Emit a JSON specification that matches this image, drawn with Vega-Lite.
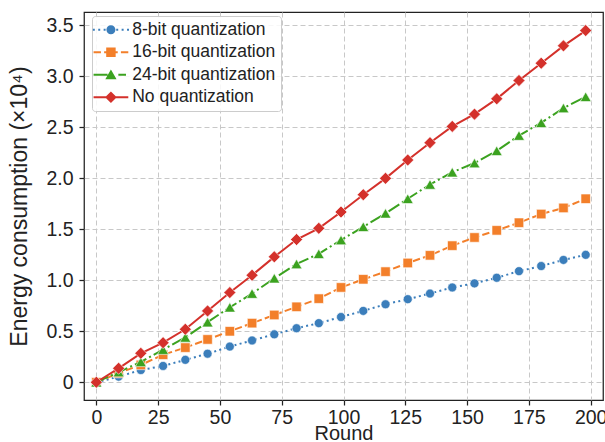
{
  "$schema": "https://vega.github.io/schema/vega-lite/v6.json",
  "width": 519,
  "height": 388,
  "autosize": "none",
  "padding": {"left": 84, "top": 12, "right": 2, "bottom": 42},
  "background": "white",
  "config": {
    "font": "Liberation Sans",
    "view": {"stroke": "#222222", "strokeWidth": 1.25},
    "axis": {
      "domain": false,
      "grid": true,
      "gridColor": "#c8c8c8",
      "gridDash": [5, 3],
      "gridWidth": 1,
      "tickColor": "#222222",
      "tickWidth": 1.25,
      "tickSize": 5,
      "labelFont": "Liberation Sans",
      "labelFontSize": 19.5,
      "labelColor": "#222222",
      "titleFont": "Liberation Sans",
      "titleFontSize": 20,
      "titleFontWeight": "normal",
      "titleColor": "#222222"
    }
  },
  "datasets": {
    "energy": [
      {"round": 0, "value": 0, "series": "8-bit quantization"},
      {"round": 9, "value": 0.055, "series": "8-bit quantization"},
      {"round": 18, "value": 0.12, "series": "8-bit quantization"},
      {"round": 27, "value": 0.16, "series": "8-bit quantization"},
      {"round": 36, "value": 0.22, "series": "8-bit quantization"},
      {"round": 45, "value": 0.28, "series": "8-bit quantization"},
      {"round": 54, "value": 0.35, "series": "8-bit quantization"},
      {"round": 63, "value": 0.41, "series": "8-bit quantization"},
      {"round": 72, "value": 0.47, "series": "8-bit quantization"},
      {"round": 81, "value": 0.53, "series": "8-bit quantization"},
      {"round": 90, "value": 0.58, "series": "8-bit quantization"},
      {"round": 99, "value": 0.64, "series": "8-bit quantization"},
      {"round": 108, "value": 0.70, "series": "8-bit quantization"},
      {"round": 117, "value": 0.765, "series": "8-bit quantization"},
      {"round": 126, "value": 0.815, "series": "8-bit quantization"},
      {"round": 135, "value": 0.87, "series": "8-bit quantization"},
      {"round": 144, "value": 0.93, "series": "8-bit quantization"},
      {"round": 153, "value": 0.97, "series": "8-bit quantization"},
      {"round": 162, "value": 1.025, "series": "8-bit quantization"},
      {"round": 171, "value": 1.09, "series": "8-bit quantization"},
      {"round": 180, "value": 1.14, "series": "8-bit quantization"},
      {"round": 189, "value": 1.20, "series": "8-bit quantization"},
      {"round": 198, "value": 1.25, "series": "8-bit quantization"},
      {"round": 0, "value": 0, "series": "16-bit quantization"},
      {"round": 9, "value": 0.09, "series": "16-bit quantization"},
      {"round": 18, "value": 0.17, "series": "16-bit quantization"},
      {"round": 27, "value": 0.27, "series": "16-bit quantization"},
      {"round": 36, "value": 0.34, "series": "16-bit quantization"},
      {"round": 45, "value": 0.42, "series": "16-bit quantization"},
      {"round": 54, "value": 0.50, "series": "16-bit quantization"},
      {"round": 63, "value": 0.58, "series": "16-bit quantization"},
      {"round": 72, "value": 0.66, "series": "16-bit quantization"},
      {"round": 81, "value": 0.74, "series": "16-bit quantization"},
      {"round": 90, "value": 0.82, "series": "16-bit quantization"},
      {"round": 99, "value": 0.93, "series": "16-bit quantization"},
      {"round": 108, "value": 1.01, "series": "16-bit quantization"},
      {"round": 117, "value": 1.085, "series": "16-bit quantization"},
      {"round": 126, "value": 1.17, "series": "16-bit quantization"},
      {"round": 135, "value": 1.245, "series": "16-bit quantization"},
      {"round": 144, "value": 1.34, "series": "16-bit quantization"},
      {"round": 153, "value": 1.42, "series": "16-bit quantization"},
      {"round": 162, "value": 1.49, "series": "16-bit quantization"},
      {"round": 171, "value": 1.565, "series": "16-bit quantization"},
      {"round": 180, "value": 1.65, "series": "16-bit quantization"},
      {"round": 189, "value": 1.71, "series": "16-bit quantization"},
      {"round": 198, "value": 1.80, "series": "16-bit quantization"},
      {"round": 0, "value": 0, "series": "24-bit quantization"},
      {"round": 9, "value": 0.10, "series": "24-bit quantization"},
      {"round": 18, "value": 0.20, "series": "24-bit quantization"},
      {"round": 27, "value": 0.32, "series": "24-bit quantization"},
      {"round": 36, "value": 0.44, "series": "24-bit quantization"},
      {"round": 45, "value": 0.59, "series": "24-bit quantization"},
      {"round": 54, "value": 0.735, "series": "24-bit quantization"},
      {"round": 63, "value": 0.87, "series": "24-bit quantization"},
      {"round": 72, "value": 1.02, "series": "24-bit quantization"},
      {"round": 81, "value": 1.16, "series": "24-bit quantization"},
      {"round": 90, "value": 1.26, "series": "24-bit quantization"},
      {"round": 99, "value": 1.395, "series": "24-bit quantization"},
      {"round": 108, "value": 1.525, "series": "24-bit quantization"},
      {"round": 117, "value": 1.657, "series": "24-bit quantization"},
      {"round": 126, "value": 1.80, "series": "24-bit quantization"},
      {"round": 135, "value": 1.94, "series": "24-bit quantization"},
      {"round": 144, "value": 2.06, "series": "24-bit quantization"},
      {"round": 153, "value": 2.15, "series": "24-bit quantization"},
      {"round": 162, "value": 2.27, "series": "24-bit quantization"},
      {"round": 171, "value": 2.42, "series": "24-bit quantization"},
      {"round": 180, "value": 2.545, "series": "24-bit quantization"},
      {"round": 189, "value": 2.69, "series": "24-bit quantization"},
      {"round": 198, "value": 2.80, "series": "24-bit quantization"},
      {"round": 0, "value": 0, "series": "No quantization"},
      {"round": 9, "value": 0.137, "series": "No quantization"},
      {"round": 18, "value": 0.284, "series": "No quantization"},
      {"round": 27, "value": 0.388, "series": "No quantization"},
      {"round": 36, "value": 0.52, "series": "No quantization"},
      {"round": 45, "value": 0.70, "series": "No quantization"},
      {"round": 54, "value": 0.88, "series": "No quantization"},
      {"round": 63, "value": 1.05, "series": "No quantization"},
      {"round": 72, "value": 1.23, "series": "No quantization"},
      {"round": 81, "value": 1.40, "series": "No quantization"},
      {"round": 90, "value": 1.51, "series": "No quantization"},
      {"round": 99, "value": 1.67, "series": "No quantization"},
      {"round": 108, "value": 1.84, "series": "No quantization"},
      {"round": 117, "value": 2.00, "series": "No quantization"},
      {"round": 126, "value": 2.18, "series": "No quantization"},
      {"round": 135, "value": 2.35, "series": "No quantization"},
      {"round": 144, "value": 2.51, "series": "No quantization"},
      {"round": 153, "value": 2.63, "series": "No quantization"},
      {"round": 162, "value": 2.78, "series": "No quantization"},
      {"round": 171, "value": 2.96, "series": "No quantization"},
      {"round": 180, "value": 3.13, "series": "No quantization"},
      {"round": 189, "value": 3.30, "series": "No quantization"},
      {"round": 198, "value": 3.45, "series": "No quantization"}
    ]
  },
  "data": {"name": "energy"},
  "encoding": {
    "x": {
      "field": "round",
      "type": "quantitative",
      "scale": {"domain": [-5, 205], "nice": false, "zero": false},
      "axis": {"values": [0, 25, 50, 75, 100, 125, 150, 175, 200], "title": "Round", "labelPadding": 3, "titlePadding": -3, "labelFlush": false}
    },
    "y": {
      "field": "value",
      "type": "quantitative",
      "scale": {"domain": [-0.174, 3.632], "nice": false, "zero": false},
      "axis": {
        "values": [0, 0.5, 1, 1.5, 2, 2.5, 3, 3.5],
        "labelExpr": "datum.value === 0 ? '0' : format(datum.value, '.1f')",
        "title": "Energy consumption (×10⁴)",
        "titleFontSize": 23,
        "labelPadding": 6,
        "titlePadding": 14
      }
    }
  },
  "layer": [
    {
      "transform": [{"filter": "datum.series == '8-bit quantization'"}],
      "mark": {"type": "line", "color": "#3b7ebb", "strokeWidth": 2, "strokeDash": [2, 3.3],
        "point": {"shape": "circle", "filled": true, "size": 81, "opacity": 1, "fill": "#3b7ebb", "stroke": "white", "strokeWidth": 0.6}}
    },
    {
      "transform": [{"filter": "datum.series == '16-bit quantization'"}],
      "mark": {"type": "line", "color": "#f37f2a", "strokeWidth": 2, "strokeDash": [7.4, 3.2],
        "point": {"shape": "square", "filled": true, "size": 90, "opacity": 1, "fill": "#f37f2a", "stroke": "white", "strokeWidth": 0.6}}
    },
    {
      "transform": [{"filter": "datum.series == '24-bit quantization'"}],
      "mark": {"type": "line", "color": "#3ba21f", "strokeWidth": 2, "strokeDash": [12.8, 3.2, 2, 3.2],
        "point": {"shape": "triangle-up", "filled": true, "size": 121, "opacity": 1, "fill": "#3ba21f", "stroke": "white", "strokeWidth": 0.6}}
    },
    {
      "transform": [{"filter": "datum.series == 'No quantization'"}],
      "mark": {"type": "line", "color": "#d4312b", "strokeWidth": 2,
        "point": {"shape": "diamond", "filled": true, "size": 144, "opacity": 1, "fill": "#d4312b", "stroke": "white", "strokeWidth": 0.6}}
    },
    {
      "mark": {"type": "point", "filled": true, "opacity": 0, "size": 81},
      "encoding": {
        "color": {
          "field": "series", "type": "nominal",
          "scale": {"domain": ["8-bit quantization", "16-bit quantization", "24-bit quantization", "No quantization"], "range": ["#3b7ebb", "#f37f2a", "#3ba21f", "#d4312b"]},
          "legend": {"title": null, "orient": "none", "legendX": 8, "legendY": 4, "padding": 5, "fillColor": "rgba(255,255,255,0.85)", "strokeColor": "#cccccc", "cornerRadius": 3, "labelFont": "Liberation Sans", "labelFontSize": 17.5, "labelColor": "#222222", "labelOffset": 17.7, "labelLimit": 300, "rowPadding": 3.5, "symbolSize": 81, "symbolStrokeWidth": 0, "symbolOpacity": 1}
        },
        "shape": {
          "field": "series", "type": "nominal",
          "scale": {
            "domain": ["8-bit quantization", "16-bit quantization", "24-bit quantization", "No quantization"],
            "range": [
              "M-2.87,-0.22h0.44v0.44h-0.44Z M-1.67,-0.22h0.44v0.44h-0.44Z M-0.47,-0.22h0.44v0.44h-0.44Z M2.33,-0.22h0.44v0.44h-0.44Z M3.53,-0.22h0.44v0.44h-0.44Z M4.73,-0.22h0.44v0.44h-0.44Z M0.15,0A1,1 0 0,1 2.15,0A1,1 0 0,1 0.15,0Z",
              "M-2.71,-0.22H-1.07V0.22H-2.71Z M-0.36,-0.22H2.66V0.22H-0.36Z M3.37,-0.22H5.01V0.22H3.37Z M0.1,-1.05h2.1v2.1h-2.1Z",
              "M-2.71,-0.22H0.4V0.22H-2.71Z M2.8,-0.22H4.5V0.22H2.8Z M1.15,-1.15L2.4,1.0L-0.1,1.0Z",
              "M-2.71,-0.22H0.3V0.22H-2.71Z M2.0,-0.22H5.01V0.22H2.0Z M1.15,-1.3L2.45,0L1.15,1.3L-0.15,0Z"
            ]
          },
          "legend": {"title": null, "orient": "none", "legendX": 8, "legendY": 4, "padding": 5, "fillColor": "rgba(255,255,255,0.85)", "strokeColor": "#cccccc", "cornerRadius": 3, "labelFont": "Liberation Sans", "labelFontSize": 17.5, "labelColor": "#222222", "labelOffset": 17.7, "labelLimit": 300, "rowPadding": 3.5, "symbolSize": 81, "symbolStrokeWidth": 0, "symbolOpacity": 1}
        }
      }
    }
  ]
}
